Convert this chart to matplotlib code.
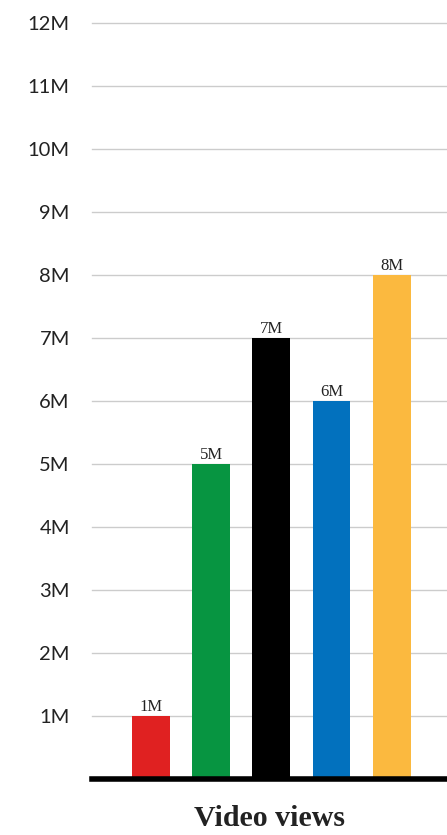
import matplotlib
matplotlib.use("Agg")
import matplotlib.pyplot as plt

categories = ["A", "B", "C", "D", "E"]
values = [1, 5, 7, 6, 8]
bar_labels = ["1M", "5M", "7M", "6M", "8M"]
colors = ["#e02121", "#079541", "#000000", "#0271be", "#fbb93f"]
yticks = list(range(1, 13))
ytick_labels = [f"{v}M" for v in yticks]

fig = plt.figure(figsize=(4.47, 8.35), dpi=100)
ax = fig.add_axes([92/447, 56/835, 355/447, (779-23)/835])

x = list(range(len(categories)))
bars = ax.bar(x, values, width=0.63, color=colors, zorder=3)
for xi, v, lab in zip(x, values, bar_labels):
    ax.text(xi, v + 0.02, lab, ha="center", va="bottom", fontsize=12,
            family="Liberation Serif", color="#222222", zorder=4)

ax.set_xlim(-0.98, 4.92)
ax.set_ylim(0, 12)
ax.set_yticks(yticks)
ax.set_yticklabels(ytick_labels, fontsize=14.5, family="Lato",
                   color="#222222")
ax.tick_params(axis="y", length=0, pad=16)
ax.set_xticks([])
ax.yaxis.grid(True, color="#cccccc", linewidth=1, zorder=0)
ax.set_axisbelow(True)
for s in ["top", "right", "left"]:
    ax.spines[s].set_visible(False)
ax.spines["bottom"].set_linewidth(4)
ax.spines["bottom"].set_color("#000000")
ax.spines["bottom"].set_zorder(5)
for line in ax.get_ygridlines():
    line.set_clip_on(False)

ax.set_xlabel("Video views", fontsize=21.5, family="Liberation Serif",
              fontweight="bold", color="#222222", labelpad=19)

fig.savefig("out.png", dpi=100)
